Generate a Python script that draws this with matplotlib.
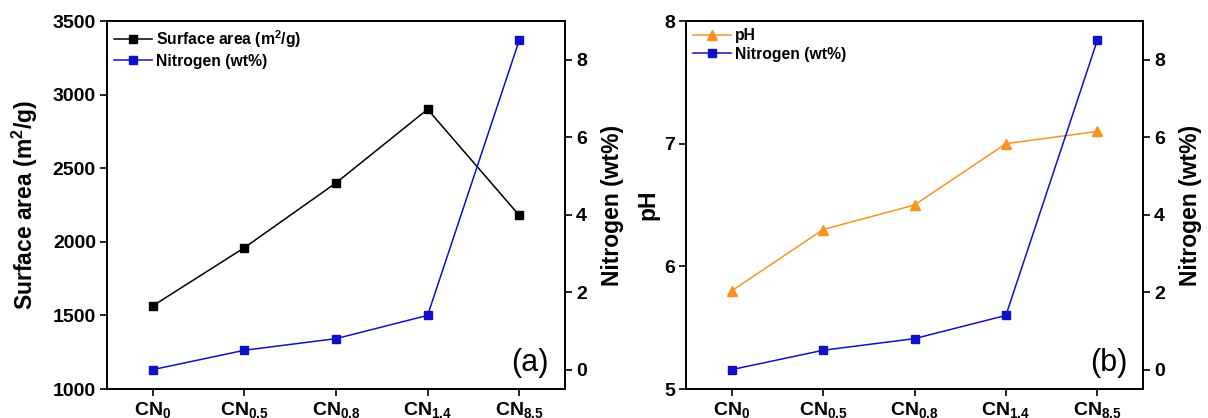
import matplotlib
matplotlib.use("Agg")
import matplotlib.pyplot as plt
from matplotlib.lines import Line2D

plt.rcParams['font.family'] = ['Liberation Sans', 'DejaVu Sans']
plt.rcParams['font.weight'] = 'bold'
plt.rcParams['axes.labelweight'] = 'bold'
plt.rcParams['mathtext.fontset'] = 'custom'
plt.rcParams['mathtext.rm'] = 'Liberation Sans:bold'
plt.rcParams['mathtext.default'] = 'rm'

categories = ["CN$_{0}$", "CN$_{0.5}$", "CN$_{0.8}$", "CN$_{1.4}$", "CN$_{8.5}$"]
surface_area = [1565, 1960, 2400, 2900, 2180]
nitrogen = [0, 0.5, 0.8, 1.4, 8.5]
ph = [5.8, 6.3, 6.5, 7.0, 7.1]

BLUE = "#1010c8"
ORANGE = "#f7931e"
MS = 5.8

fig = plt.figure(figsize=(12.08, 4.18), dpi=100)
W, H = 1208, 418

def make_ax(x0, x1, y0, y1):
    return fig.add_axes([x0 / W, 1 - y1 / H, (x1 - x0) / W, (y1 - y0) / H])

def style(ax):
    ax.tick_params(direction='out', length=5, width=1.2, labelsize=14, pad=3)
    ax.tick_params(axis='x', pad=3)
    for s in ax.spines.values():
        s.set_linewidth(1.3)

x = list(range(len(categories)))

# Panel (a)
ax1 = make_ax(107, 565, 21, 389)
ax1.plot(x, surface_area, color='black', lw=1.1, marker='s', ms=MS)
ax1.set_ylim(1000, 3500)
ax1.set_xlim(-0.5, 4.5)
ax1.set_yticks([1000, 1500, 2000, 2500, 3000, 3500])
ax1.set_xticks(x)
ax1.set_xticklabels(categories)
ax1.set_ylabel("Surface area (m$^{2}$/g)", fontsize=16.5, labelpad=9)
style(ax1)
ax1b = ax1.twinx()
ax1b.plot(x, nitrogen, color=BLUE, lw=1.1, marker='s', ms=MS)
ax1b.set_ylim(-0.5, 9)
ax1b.set_yticks([0, 2, 4, 6, 8])
ax1b.set_ylabel("Nitrogen (wt%)", fontsize=16.5, labelpad=10)
style(ax1b)
ax1.text(0.965, 0.03, "(a)", transform=ax1.transAxes, ha='right', va='bottom',
         fontsize=22, fontweight='normal')
h1 = [Line2D([], [], color='black', lw=1.1, marker='s', ms=MS),
      Line2D([], [], color=BLUE, lw=1.1, marker='s', ms=MS)]
ax1.legend(h1, ["Surface area (m$^{2}$/g)", "Nitrogen (wt%)"], loc='upper left',
           frameon=False, fontsize=11.3, handlelength=2.4, handletextpad=0.3,
           labelspacing=0.25, borderaxespad=0.1, borderpad=0.35)

# Panel (b)
ax2 = make_ax(686, 1143, 21, 389)
ax2.plot(x, ph, color=ORANGE, lw=1.1, marker='^', ms=7.5)
ax2.set_ylim(5, 8)
ax2.set_xlim(-0.5, 4.5)
ax2.set_yticks([5, 6, 7, 8])
ax2.set_xticks(x)
ax2.set_xticklabels(categories)
ax2.set_ylabel("pH", fontsize=16.5, labelpad=3)
style(ax2)
ax2b = ax2.twinx()
ax2b.plot(x, nitrogen, color=BLUE, lw=1.1, marker='s', ms=MS)
ax2b.set_ylim(-0.5, 9)
ax2b.set_yticks([0, 2, 4, 6, 8])
ax2b.set_ylabel("Nitrogen (wt%)", fontsize=16.5, labelpad=10)
style(ax2b)
ax2.text(0.965, 0.03, "(b)", transform=ax2.transAxes, ha='right', va='bottom',
         fontsize=22, fontweight='normal')
h2 = [Line2D([], [], color=ORANGE, lw=1.1, marker='^', ms=7.5),
      Line2D([], [], color=BLUE, lw=1.1, marker='s', ms=MS)]
ax2.legend(h2, ["pH", "Nitrogen (wt%)"], loc='upper left',
           frameon=False, fontsize=11.3, handlelength=2.4, handletextpad=0.3,
           labelspacing=0.25, borderaxespad=0.1, borderpad=0.35)

fig.savefig("out.png", dpi=100)
